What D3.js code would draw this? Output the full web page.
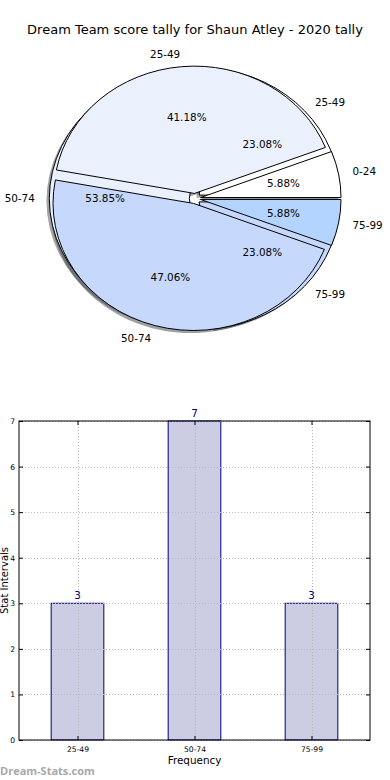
<!DOCTYPE html>
<html>
<head>
<meta charset="utf-8">
<script src="https://cdn.jsdelivr.net/npm/d3@7"></script>
<style>
  body { margin: 0; background: #fff; }
  text { font-family: "DejaVu Sans", sans-serif; }
</style>
</head>
<body>
<svg id="chart" width="390" height="780"></svg>
<script>
(function () {
    // pie data (two pies drawn on the same axes)
    const pieACats = ["0-24", "25-49", "50-74", "75-99"];
    const pieAValues = [1, 7, 8, 1];
    const pieBCats = ["25-49", "50-74", "75-99"];
    const pieBValues = [3, 7, 3];
    const pieColors = ["#ffffff", "#eaf1fd", "#c6d9fd", "#b3d4ff"];

    // bar data
    const barCats = ["25-49", "50-74", "75-99"];
    const barValues = [3, 7, 3];
    const yTicks = [0, 1, 2, 3, 4, 5, 6, 7];

    const svg = d3.select("#chart");

    svg.append("text")
        .attr("x", 195).attr("y", 34)
        .attr("text-anchor", "middle")
        .style("font-size", "13px")
        .text("Dream Team score tally for Shaun Atley - 2020 tally");

    // ---------- pie ----------
    const cx = 195, cy = 198.5, rx = 140.5, ry = 127.4, explode = 0.04;

    // start at 3 o'clock and go counter-clockwise like matplotlib
    const pie = d3.pie().sort(null)
        .startAngle(Math.PI / 2)
        .endAngle(Math.PI / 2 - 2 * Math.PI);
    const arc = d3.arc().innerRadius(0).outerRadius(1);

    function prep(cats, values) {
        const total = d3.sum(values);
        return pie(values).map((d, i) => {
            const mid = (d.startAngle + d.endAngle) / 2;
            return {
                arc: d, cat: cats[i], color: pieColors[i],
                pct: (values[i] / total * 100).toFixed(2) + "%",
                ux: Math.sin(mid), uy: -Math.cos(mid)
            };
        });
    }
    const slicesA = prep(pieACats, pieAValues);
    const slicesB = prep(pieBCats, pieBValues);

    const pg = svg.append("g")
        .attr("transform", `translate(${cx},${cy}) scale(${rx},${ry})`);

    // shadows go below every wedge
    pg.append("g").selectAll("path")
        .data(slicesB.concat(slicesA))
        .enter().append("path")
        .attr("d", d => arc(d.arc))
        .attr("transform", d => `translate(${explode * d.ux - 0.02},${explode * d.uy + 0.02})`)
        .attr("fill", d => {
            const c = d3.rgb(d.color);
            return d3.rgb(c.r * 0.3, c.g * 0.3, c.b * 0.3);
        })
        .attr("fill-opacity", 0.5);

    [slicesB, slicesA].forEach(slices => {
        pg.append("g").selectAll("path")
            .data(slices)
            .enter().append("path")
            .attr("d", d => arc(d.arc))
            .attr("transform", d => `translate(${explode * d.ux},${explode * d.uy})`)
            .attr("fill", d => d.color)
            .attr("stroke", "#000")
            .attr("stroke-width", 1)
            .attr("vector-effect", "non-scaling-stroke");
    });

    const labels = svg.append("g").style("font-size", "10.4px");
    slicesB.concat(slicesA).forEach(d => {
        labels.append("text")
            .attr("x", cx + rx * (1.1 + explode) * d.ux)
            .attr("y", cy + ry * (1.1 + explode) * d.uy)
            .attr("dy", "0.35em")
            .attr("text-anchor", d.ux > 0 ? "start" : "end")
            .text(d.cat);
        labels.append("text")
            .attr("x", cx + rx * (0.6 + explode) * d.ux)
            .attr("y", cy + ry * (0.6 + explode) * d.uy)
            .attr("dy", "0.35em")
            .attr("text-anchor", "middle")
            .text(d.pct);
    });

    // ---------- bar chart ----------
    const left = 19, right = 370, top = 421, bottom = 740;
    const x = d3.scaleLinear().domain([-0.5, barCats.length - 0.5]).range([left, right]);
    const y = d3.scaleLinear().domain([0, 7]).range([bottom, top]);
    const barW = 0.45;

    const chart = svg.append("g");

    chart.append("g").selectAll("rect")
        .data(barValues)
        .enter().append("rect")
        .attr("x", (d, i) => x(i - barW / 2))
        .attr("y", d => y(d))
        .attr("width", x(barW) - x(0))
        .attr("height", d => y(0) - y(d))
        .attr("fill", "#ccccE3")
        .attr("stroke", "#000080")
        .attr("stroke-width", 1);

    // dotted grid on top of bars
    const grid = chart.append("g")
        .attr("stroke", "#b8b8b8")
        .attr("stroke-width", 1)
        .attr("stroke-dasharray", "1,2");
    yTicks.forEach(t => {
        grid.append("line")
            .attr("x1", left).attr("x2", right)
            .attr("y1", Math.round(y(t)) + 0.5).attr("y2", Math.round(y(t)) + 0.5);
    });
    barCats.forEach((c, i) => {
        grid.append("line")
            .attr("x1", Math.round(x(i)) + 0.5).attr("x2", Math.round(x(i)) + 0.5)
            .attr("y1", top).attr("y2", bottom);
    });

    // axes with inward ticks
    const yAxisL = d3.axisLeft(y).tickValues(yTicks).tickFormat(d3.format("d"))
        .tickSizeInner(-4).tickSizeOuter(0).tickPadding(4);
    const yAxisR = d3.axisRight(y).tickValues(yTicks).tickSizeInner(-4).tickSizeOuter(0).tickFormat("");
    const xAxisB = d3.axisBottom(x).tickValues(d3.range(barCats.length))
        .tickFormat(i => barCats[i]).tickSizeInner(-4).tickSizeOuter(0).tickPadding(7);
    const xAxisT = d3.axisTop(x).tickValues(d3.range(barCats.length))
        .tickSizeInner(-4).tickSizeOuter(0).tickFormat("");

    const gl = chart.append("g").attr("transform", `translate(${left},0)`).call(yAxisL);
    const gr = chart.append("g").attr("transform", `translate(${right},0)`).call(yAxisR);
    const gb = chart.append("g").attr("transform", `translate(0,${bottom})`).call(xAxisB);
    const gt = chart.append("g").attr("transform", `translate(0,${top})`).call(xAxisT);
    [gl, gr, gb, gt].forEach(g => {
        g.select(".domain").remove();
        g.selectAll("text").style("font-family", "DejaVu Sans").style("font-size", "7.6px").attr("fill", "#000");
    });

    chart.append("rect")
        .attr("x", left).attr("y", top)
        .attr("width", right - left).attr("height", bottom - top)
        .attr("fill", "none").attr("stroke", "#000").attr("stroke-width", 1);

    // value labels
    chart.append("g").selectAll("text")
        .data(barValues)
        .enter().append("text")
        .attr("x", (d, i) => x(i))
        .attr("y", d => y(d) - 4)
        .attr("text-anchor", "middle")
        .attr("fill", "#000080")
        .style("font-size", "10.4px")
        .text(d => d);

    chart.append("text")
        .attr("x", (left + right) / 2).attr("y", 764)
        .attr("text-anchor", "middle")
        .style("font-size", "10.4px")
        .text("Frequency");

    chart.append("text")
        .attr("transform", `translate(8,${(top + bottom) / 2}) rotate(-90)`)
        .attr("text-anchor", "middle")
        .style("font-size", "10px")
        .text("Stat Intervals");

    svg.append("text")
        .attr("x", 0).attr("y", 775)
        .attr("fill", "#a8a8a8")
        .style("font-size", "11px")
        .style("font-weight", "bold")
        .style("font-family", "'Open Sans', sans-serif")
        .text("Dream-Stats.com");
})();
</script>
</body>
</html>
